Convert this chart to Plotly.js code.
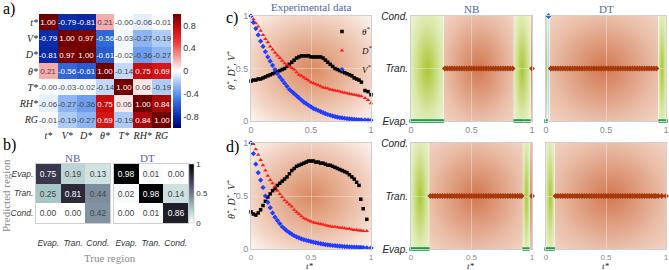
<!DOCTYPE html>
<html><head><meta charset="utf-8">
<script src="https://cdn.plot.ly/plotly-3.0.1.min.js"></script>
<style>html,body{margin:0;padding:0;background:#fff}#chart{width:669px;height:270px}</style>
</head><body><div id="chart"></div>
<script>
// ---------- a) correlation matrix ----------
const corrVars = ['t*','V*','D*','θ*','T*','RH*','RG'];
const corr_t  = [1.00,-0.79,-0.81,0.21,-0.004,-0.06,-0.01];
const corr_V  = [-0.79,1.00,0.97,-0.56,-0.03,-0.27,-0.19];
const corr_D  = [-0.81,0.97,1.00,-0.61,-0.02,-0.36,-0.27];
const corr_th = [0.21,-0.56,-0.61,1.00,-0.14,0.75,0.69];
const corr_T  = [-0.004,-0.03,-0.02,-0.14,1.00,0.06,-0.19];
const corr_RH = [-0.06,-0.27,-0.36,0.75,0.06,1.00,0.84];
const corr_RG = [-0.01,-0.19,-0.27,0.69,-0.19,0.84,1.00];

// ---------- b) confusion matrices (rows: predicted, cols: true) ----------
const regions = ['Evap.','Tran.','Cond.'];
const nb_predEvap = [0.75,0.19,0.13];
const nb_predTran = [0.25,0.81,0.44];
const nb_predCond = [0.00,0.00,0.42];
const dt_predEvap = [0.98,0.01,0.00];
const dt_predTran = [0.02,0.98,0.14];
const dt_predCond = [0.00,0.01,0.86];

// ---------- c) experimental data ----------
const tC = [0,0.02,0.04,0.06,0.08,0.1,0.12,0.14,0.16,0.18,0.2,0.22,0.24,0.26,0.28,0.3,0.32,0.34,0.36,0.38,0.4,0.42,0.44,0.46,0.48,0.5,0.52,0.54,0.56,0.58,0.6,0.62,0.64,0.66,0.68,0.7,0.72,0.74,0.76,0.78,0.8,0.82,0.84,0.86,0.88,0.9,0.92,0.95,0.975,1.0];
const thetaC = [0.38,0.39,0.39,0.40,0.40,0.41,0.42,0.43,0.44,0.45,0.46,0.47,0.48,0.49,0.50,0.52,0.54,0.56,0.58,0.60,0.61,0.62,0.62,0.62,0.62,0.61,0.61,0.61,0.61,0.61,0.60,0.58,0.56,0.54,0.52,0.50,0.49,0.48,0.47,0.46,0.45,0.44,0.43,0.41,0.40,0.39,0.37,0.29,0.28,0.25];
const dC = [1.0,0.97,0.93,0.90,0.86,0.82,0.78,0.75,0.71,0.68,0.65,0.625,0.60,0.575,0.55,0.535,0.52,0.505,0.49,0.465,0.44,0.43,0.415,0.40,0.385,0.37,0.36,0.35,0.34,0.33,0.32,0.315,0.31,0.30,0.295,0.29,0.285,0.28,0.275,0.27,0.265,0.26,0.255,0.25,0.245,0.24,0.235,0.22,0.2,0.17];
const vC = [1.0,0.94,0.88,0.82,0.76,0.71,0.66,0.61,0.57,0.53,0.49,0.45,0.42,0.39,0.36,0.33,0.30,0.28,0.26,0.24,0.22,0.20,0.18,0.165,0.15,0.135,0.12,0.11,0.10,0.09,0.08,0.07,0.062,0.055,0.048,0.042,0.037,0.033,0.029,0.026,0.023,0.02,0.018,0.016,0.014,0.012,0.011,0.01,0.008,0.007];
// predicted region per point (E = Evap., T = Tran., C = Cond.)
const nbLabelsC = 'EEEEEEEEEE'+'EEEETTTTTT'+'TTTTTTTTTT'+'TTTTTTTTTT'+'TTTEEEEEET';
const dtLabelsC = 'ECTTTTTTTT'+'TTTTTTTTTT'+'TTTTTTTTTT'+'TTTTTTTTTT'+'TTTTTTTEEE';

// ---------- d) experimental data ----------
const tD = [0,0.02,0.04,0.06,0.08,0.1,0.12,0.14,0.16,0.18,0.2,0.22,0.24,0.26,0.28,0.3,0.32,0.34,0.36,0.38,0.4,0.42,0.44,0.46,0.48,0.5,0.52,0.54,0.56,0.58,0.6,0.62,0.64,0.66,0.68,0.7,0.72,0.74,0.76,0.78,0.8,0.82,0.84,0.86,0.88,0.9,0.915,0.935,0.965,1.0];
const thetaD = [0.35,0.33,0.32,0.34,0.37,0.41,0.45,0.49,0.52,0.55,0.57,0.60,0.62,0.64,0.66,0.68,0.71,0.74,0.76,0.78,0.79,0.80,0.81,0.82,0.83,0.83,0.83,0.82,0.82,0.81,0.81,0.80,0.79,0.79,0.78,0.77,0.76,0.75,0.74,0.73,0.72,0.70,0.68,0.66,0.63,0.60,0.47,0.38,0.28,null];
const dD = [1.0,0.99,0.94,0.89,0.84,0.79,0.74,0.69,0.65,0.62,0.59,0.55,0.52,0.49,0.46,0.44,0.42,0.40,0.37,0.35,0.33,0.31,0.29,0.28,0.27,0.26,0.25,0.245,0.24,0.235,0.23,0.225,0.22,0.215,0.21,0.21,0.205,0.20,0.20,0.195,0.19,0.19,0.185,0.18,0.18,0.175,0.175,0.17,0.17,null];
const vD = [1.0,0.9,0.8,0.72,0.65,0.58,0.5,0.44,0.39,0.34,0.3,0.27,0.24,0.21,0.19,0.17,0.155,0.14,0.125,0.115,0.105,0.095,0.088,0.082,0.076,0.07,0.065,0.06,0.055,0.05,0.046,0.042,0.039,0.036,0.033,0.031,0.029,0.027,0.025,0.023,0.022,0.02,0.019,0.018,0.017,0.016,0.015,0.014,0.012,0.01];
const nbLabelsD = 'EEEEEEEETT'+'TTTTTTTTTT'+'TTTTTTTTTT'+'TTTTTTTTTT'+'TTTTTTTEET';
const dtLabelsD = 'EEEETTTTTT'+'TTTTTTTTTT'+'TTTTTTTTTT'+'TTTTTTTTTT'+'TTTTTTTTTT';

// ---------- styles ----------
const W = 669, H = 270;
const px = v => v / W, py = v => 1 - v / H;
const serif = 'Liberation Serif, DejaVu Serif, serif';
const sans = 'Liberation Sans, Arial, sans-serif';
const classInfo = {
  E: {y: 0, color: '#17a04a', symbol: 'square', size: 3.5},
  T: {y: 1, color: '#a8390b', symbol: 'diamond', size: 4.5},
  C: {y: 2, color: '#1a6fd0', symbol: 'diamond', size: 4.5}
};
const bandStops = {
  E: [[0,'#a9c733'],[0.6,'#d9e8a8'],[1,'#eef4d6']],
  T: [[0,'#d37850'],[0.7,'#eabfaa'],[1,'#f2d3c4']],
  C: [[0,'#a2d0ea'],[0.7,'#cfe6f3'],[1,'#e4f1f8']]
};
const bgStops = [[0,'#d9895f'],[0.7,'#f2d2c2'],[1,'#fdf5f1']];

function gradURI(stops){
  const s = stops.map(([o,c]) => `<stop offset="${o}" stop-color="${c}"/>`).join('');
  const svg = `<svg xmlns="http://www.w3.org/2000/svg" width="200" height="200" viewBox="0 0 200 200" preserveAspectRatio="none"><defs><radialGradient id="g" cx="0.5" cy="0.5" r="0.71">${s}</radialGradient></defs><rect x="0" y="0" width="200" height="200" fill="url(#g)"/></svg>`;
  return 'data:image/svg+xml;charset=utf-8,' + encodeURIComponent(svg);
}

const traces = [];
const images = [];

// a) heatmap
const corrZ = [corr_t, corr_V, corr_D, corr_th, corr_T, corr_RH, corr_RG];
traces.push({
  type: 'heatmap', x: corrVars, y: corrVars, z: corrZ, xaxis: 'x', yaxis: 'y',
  zmin: -1, zmax: 1,
  text: corrZ.map(r => r.map(v => v.toFixed(2))), texttemplate: '%{text}',
  textfont: {size: 8, family: sans},
  colorscale: [[0,'#000070'],[0.1,'#0a2aa8'],[0.25,'#3a78e6'],[0.4,'#a8c8f4'],[0.5,'#ffffff'],[0.6,'#f6b0b0'],[0.75,'#f03a3a'],[0.86,'#d01010'],[1,'#700000']],
  colorbar: {x: px(173), xanchor: 'left', y: py(71), yanchor: 'middle', len: 114/H, lenmode: 'fraction',
    thickness: 8, xpad: 0, ypad: 0, outlinewidth: 0, tickvals: [-0.8,-0.4,0,0.4,0.8],
    ticktext: ['-0.8','-0.4','0','0.4','0.8'], ticks: '', tickfont: {size: 9, family: sans, color: '#333'}},
  hoverinfo: 'skip'
});

// b) confusion matrices
const boneScale = [[0,'rgb(255,255,255)'],[0.254,'rgb(166,198,198)'],[0.635,'rgb(81,81,113)'],[1,'rgb(0,0,0)']];
const nbZ = [nb_predEvap, nb_predTran, nb_predCond];
const dtZ = [dt_predEvap, dt_predTran, dt_predCond];
[[nbZ,'x2','y2',false],[dtZ,'x3','y3',true]].forEach(([z,xa,ya,sc]) => {
  traces.push({
    type: 'heatmap', x: regions, y: regions, z: z, xaxis: xa, yaxis: ya, zmin: 0, zmax: 1,
    colorscale: boneScale, showscale: sc,
    text: z.map(r => r.map(v => v.toFixed(2))), texttemplate: '%{text}',
    textfont: {size: 8.5, family: sans},
    colorbar: {x: px(189), xanchor: 'left', y: py(193.5), yanchor: 'middle', len: 59/H, lenmode: 'fraction',
      thickness: 5, xpad: 0, ypad: 0, outlinewidth: 0.5, outlinecolor: '#bbb',
      tickvals: [0,0.5,1], ticktext: ['0','0.5','1'], ticks: '', tickfont: {size: 8, family: sans, color: '#333'}},
    hoverinfo: 'skip'
  });
});

// c), d) experimental curves
function expTraces(t, th, d, v, xa, ya, legend){
  const common = {type: 'scatter', mode: 'markers', x: t, xaxis: xa, yaxis: ya, cliponaxis: false, hoverinfo: 'skip', showlegend: legend};
  traces.push(Object.assign({}, common, {y: th, name: 'θ<sup>*</sup>', marker: {symbol: 'square', size: 3.5, color: '#000000'}}));
  traces.push(Object.assign({}, common, {y: d, name: 'D<sup>*</sup>', marker: {symbol: 'triangle-up', size: 4, color: '#ff1a1a'}}));
  traces.push(Object.assign({}, common, {y: v, name: 'V<sup>*</sup>', marker: {symbol: 'diamond', size: 4, color: '#1f3cff'}}));
  images.push({source: gradURI(bgStops), xref: xa, yref: ya, x: 0, y: 1, sizex: 1, sizey: 1, sizing: 'stretch', layer: 'below', xanchor: 'left', yanchor: 'top'});
}
expTraces(tC, thetaC, dC, vC, 'x4', 'y4', true);
expTraces(tD, thetaD, dD, vD, 'x7', 'y7', false);

// classification panels
function classPanel(t, labels, xa, ya){
  ['E','T','C'].forEach(k => {
    const xs = [], ys = [];
    for (let i = 0; i < t.length; i++) if (labels[i] === k) { xs.push(t[i]); ys.push(classInfo[k].y); }
    if (xs.length) traces.push({type: 'scatter', mode: 'markers', x: xs, y: ys, xaxis: xa, yaxis: ya,
      cliponaxis: false, showlegend: false, hoverinfo: 'skip',
      marker: {symbol: classInfo[k].symbol, size: classInfo[k].size, color: classInfo[k].color}});
  });
  // background bands from runs of predicted region
  let start = 0, i0 = 0;
  for (let i = 1; i <= t.length; i++) {
    if (i === t.length || labels[i] !== labels[i0]) {
      const end = i === t.length ? 1 : (t[i-1] + t[i]) / 2;
      images.push({source: gradURI(bandStops[labels[i0]]), xref: xa, yref: ya, x: start, y: 2,
        sizex: end - start, sizey: 2, sizing: 'stretch', layer: 'below', xanchor: 'left', yanchor: 'top'});
      start = end; i0 = i;
    }
  }
}
classPanel(tC, nbLabelsC, 'x5', 'y5');
classPanel(tC, dtLabelsC, 'x6', 'y6');
classPanel(tD, nbLabelsD, 'x8', 'y8');
classPanel(tD, dtLabelsD, 'x9', 'y9');

// ---------- layout ----------
const tickGray = {size: 9, family: sans, color: '#8a8a8a'};
const frame = {showline: true, mirror: true, linecolor: '#cfcfcf', linewidth: 1, zeroline: false};
function numAx(dom, anchor, extra){
  return Object.assign({domain: dom, anchor: anchor, range: [0,1], tickvals: [0,0.5,1], ticktext: ['0','0.5','1'],
    ticks: '', tickfont: tickGray, showgrid: true, gridcolor: 'rgba(235,235,235,0.45)', gridwidth: 1}, frame, extra || {});
}
function catAx(dom, anchor, showLabels){
  return Object.assign({domain: dom, anchor: anchor, range: [0,2], tickvals: [0,1,2], ticktext: regions,
    showticklabels: showLabels, ticks: '', showgrid: true, gridcolor: 'rgba(235,235,235,0.45)',
    tickfont: {size: 10, family: sans, style: 'italic', color: '#222'}}, frame);
}
const colL = [px(251), px(371)], colNB = [px(411), px(532)], colDT = [px(546), px(666)];
const rowC = [py(121), py(16)], rowD = [py(249), py(143)];
const serifIt = {family: serif, style: 'italic', size: 10, color: '#222'};
const tight = {tickfont: {size: 8, family: sans, color: '#8a8a8a'}};

const layout = {
  width: W, height: H, margin: {l: 0, r: 0, t: 0, b: 0}, paper_bgcolor: '#ffffff', plot_bgcolor: 'rgba(0,0,0,0)',
  showlegend: true,
  legend: {x: px(322), y: py(17), xanchor: 'left', yanchor: 'top', bgcolor: 'rgba(0,0,0,0)', borderwidth: 0,
    font: {family: serif, style: 'italic', size: 9, color: '#111'}, itemwidth: 30, tracegroupgap: 0},
  xaxis: {domain: [px(39), px(171)], anchor: 'y', ticks: '', showgrid: false, zeroline: false, showline: false,
    tickfont: {family: serif, style: 'italic', size: 10, color: '#222'}},
  yaxis: {domain: [py(128), py(14)], anchor: 'x', autorange: 'reversed', ticks: '', showgrid: false, zeroline: false, showline: false,
    tickfont: {family: serif, style: 'italic', size: 10, color: '#222'}},
  xaxis2: Object.assign({domain: [px(36), px(110)], anchor: 'y2', ticks: 'outside', ticklen: 12, tickcolor: 'rgba(0,0,0,0)',
    showgrid: false, tickfont: {size: 8.5, family: sans, style: 'italic', color: '#333'}}, frame),
  yaxis2: Object.assign({domain: [py(223), py(164)], anchor: 'x2', autorange: 'reversed', ticks: '', showgrid: false,
    tickfont: {size: 8.5, family: sans, style: 'italic', color: '#333'}}, frame),
  xaxis3: Object.assign({domain: [px(114), px(188)], anchor: 'y3', ticks: 'outside', ticklen: 12, tickcolor: 'rgba(0,0,0,0)',
    showgrid: false, tickfont: {size: 8.5, family: sans, style: 'italic', color: '#333'}}, frame),
  yaxis3: Object.assign({domain: [py(223), py(164)], anchor: 'x3', autorange: 'reversed', ticks: '', showgrid: false,
    showticklabels: false}, frame),
  xaxis4: numAx(colL, 'y4'), yaxis4: numAx(rowC, 'x4'),
  xaxis5: numAx(colNB, 'y5'), yaxis5: catAx(rowC, 'x5', true),
  xaxis6: numAx(colDT, 'y6'), yaxis6: catAx(rowC, 'x6', false),
  xaxis7: numAx(colL, 'y7', tight), yaxis7: numAx(rowD, 'x7'),
  xaxis8: numAx(colNB, 'y8', tight), yaxis8: catAx(rowD, 'x8', true),
  xaxis9: numAx(colDT, 'y9', tight), yaxis9: catAx(rowD, 'x9', false),
  images: images,
  annotations: [
    {text: 'a)', x: px(1), y: py(9), xanchor: 'left', font: {family: serif, size: 16, color: '#000'}},
    {text: 'b)', x: px(1), y: py(145), xanchor: 'left', font: {family: serif, size: 16, color: '#000'}},
    {text: 'c)', x: px(224), y: py(18), xanchor: 'left', font: {family: serif, size: 16, color: '#000'}},
    {text: 'd)', x: px(224), y: py(147), xanchor: 'left', font: {family: serif, size: 16, color: '#000'}},
    {text: 'NB', x: px(72), y: py(158), font: {family: serif, size: 11, color: '#5262ad'}},
    {text: 'DT', x: px(147), y: py(158), font: {family: serif, size: 11, color: '#5262ad'}},
    {text: 'Predicted region', x: px(6), y: py(196), textangle: -90, font: {family: serif, size: 11, color: '#8a8a8a'}},
    {text: 'True region', x: px(110), y: py(258), font: {family: serif, size: 11, color: '#8a8a8a'}},
    {text: 'Experimental data', x: px(311), y: py(7), font: {family: serif, size: 11, color: '#5262ad'}},
    {text: 'NB', x: px(471), y: py(9), font: {family: serif, size: 11, color: '#5262ad'}},
    {text: 'DT', x: px(606), y: py(9), font: {family: serif, size: 11, color: '#5262ad'}},
    {text: 'θ<sup>*</sup>, D<sup>*</sup>, V<sup>*</sup>', x: px(231), y: py(71), textangle: -90, font: serifIt},
    {text: 'θ<sup>*</sup>, D<sup>*</sup>, V<sup>*</sup>', x: px(231), y: py(200), textangle: -90, font: serifIt},
    {text: 't*', x: px(310), y: py(265.5), font: Object.assign({}, serifIt, {size: 9})},
    {text: 't*', x: px(471), y: py(265.5), font: Object.assign({}, serifIt, {size: 9})},
    {text: 't*', x: px(606), y: py(265.5), font: Object.assign({}, serifIt, {size: 9})}
  ].map(a => Object.assign({xref: 'paper', yref: 'paper', showarrow: false, xanchor: 'center', yanchor: 'middle'}, a))
};

Plotly.newPlot('chart', traces, layout, {staticPlot: true, displayModeBar: false});
</script></body></html>
